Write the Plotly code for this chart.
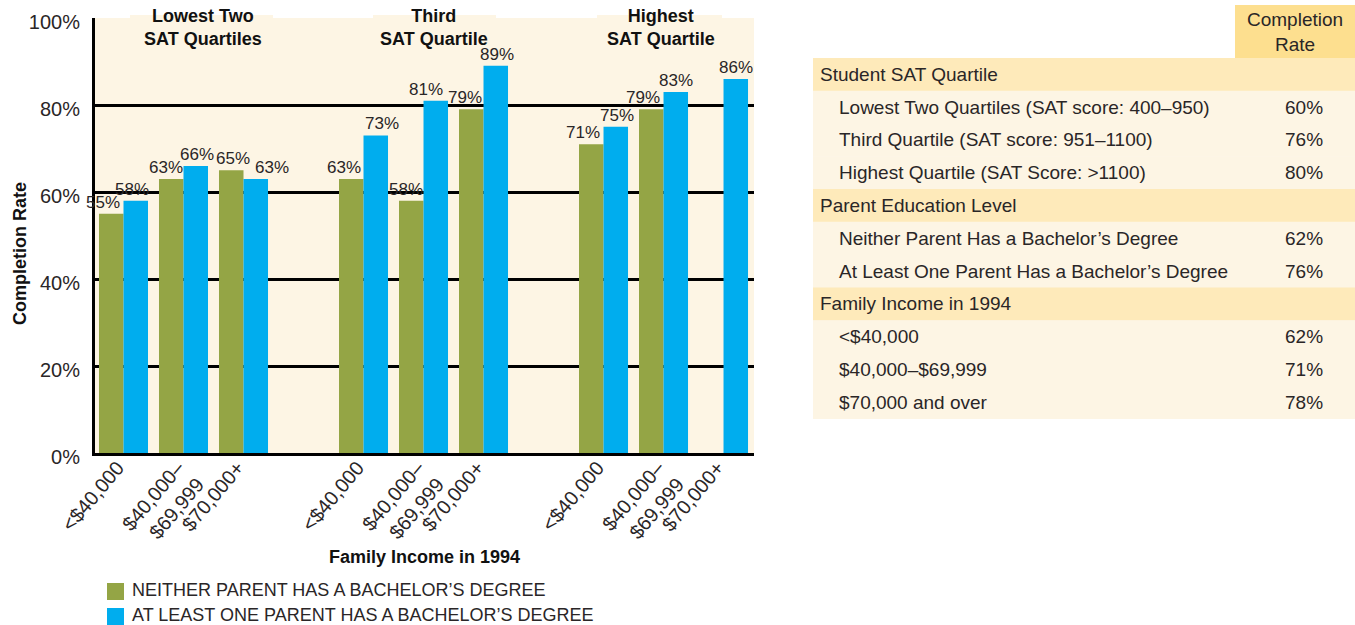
import plotly.graph_objects as go

# ---- data -----------------------------------------------------------------
groups = ["Lowest Two<br>SAT Quartiles", "Third<br>SAT Quartile", "Highest<br>SAT Quartile"]
income_bands = ["<$40,000", "$40,000–<br>$69,999", "$70,000+"]
y_ticks = [0, 20, 40, 60, 80, 100]

neither_parent = [55, 63, 65, 63, 58, 79, 71, 79, None]
one_parent = [58, 66, 63, 73, 81, 89, 75, 83, 86]

series_names = ["NEITHER PARENT HAS A BACHELOR’S DEGREE",
                "AT LEAST ONE PARENT HAS A BACHELOR’S DEGREE"]

table_title = "Completion<br>Rate"
table_labels = [
    "Student SAT Quartile",
    "Lowest Two Quartiles (SAT score: 400–950)",
    "Third Quartile (SAT score: 951–1100)",
    "Highest Quartile (SAT Score: >1100)",
    "Parent Education Level",
    "Neither Parent Has a Bachelor’s Degree",
    "At Least One Parent Has a Bachelor’s Degree",
    "Family Income in 1994",
    "<$40,000",
    "$40,000–$69,999",
    "$70,000 and over",
]
table_rates = [None, 60, 76, 80, None, 62, 76, None, 62, 71, 78]
table_is_section = [True, False, False, False, True, False, False, True, False, False, False]

# ---- styling --------------------------------------------------------------
GREEN = "#94A545"
BLUE = "#00ADEE"
CREAM = "#FDF5E4"
SECTION = "#FEEABA"
HEADER = "#FDDF8F"
TEXT = "#2A2627"
HEAD_TEXT = "#111111"
FONT = "Liberation Sans, Arial, sans-serif"
BARGAP = 0.183

# horizontal nudges (px) for the value labels so neighbours do not collide
nudge_neither = [-8, -5, 2, -7, -5, -6, -8, -8, 0]
nudge_one = [-4, 1, 16, 6, -10, 1, 1, 0, 0]

W, H = 1355, 625
PL, PR, PT, PB = 95, 754, 18, 453  # plot box in pixels

# table box (pixels)
TL, TR, T_HEAD_TOP, T_BODY_TOP, T_ROW_H = 813, 1355, 5, 58, 32.77
T_RATE_L = 1235


def fx(px):
    """pixel column -> paper x (margins are zero, so paper = whole figure)"""
    return px / W


def fy(py):
    """pixel row -> paper y"""
    return 1 - py / H


# bar slots: three per group, one empty slot between groups
x_pos = [g * 4 + j for g in range(len(groups)) for j in range(len(income_bands))]
x_labels = [income_bands[j] for g in range(len(groups)) for j in range(len(income_bands))]

fig = go.Figure()
for name, vals, color in [(series_names[0], neither_parent, GREEN),
                          (series_names[1], one_parent, BLUE)]:
    fig.add_trace(go.Bar(
        x=x_pos, y=vals, name=name, marker=dict(color=color, line=dict(width=0)),
        showlegend=False, hoverinfo="skip",
    ))

annotations = []
shapes = []

# value labels centred over each bar of the grouped pair
half = (1 - BARGAP) / 4
for vals, nudges, side in [(neither_parent, nudge_neither, -1), (one_parent, nudge_one, 1)]:
    for xp, v, dx in zip(x_pos, vals, nudges):
        if v is None:
            continue
        annotations.append(dict(
            x=xp + side * half, y=v, xref="x", yref="y", text=f"{v}%",
            showarrow=False, xanchor="center", yanchor="bottom", xshift=dx,
            font=dict(family=FONT, size=17, color=TEXT),
        ))

# ---- summary table (filled rows with text) ----------------------------------------
shapes.append(dict(type="rect", xref="paper", yref="paper", layer="below",
                   x0=fx(T_RATE_L), x1=fx(TR), y0=fy(T_BODY_TOP), y1=fy(T_HEAD_TOP),
                   fillcolor=HEADER, line=dict(width=0)))
annotations.append(dict(
    x=fx((T_RATE_L + TR) / 2), y=fy((T_HEAD_TOP + T_BODY_TOP) / 2), xref="paper", yref="paper",
    text=table_title, showarrow=False, xanchor="center", yanchor="middle", align="center",
    font=dict(family=FONT, size=19, color=TEXT),
))
for i, (label, rate, section) in enumerate(zip(table_labels, table_rates, table_is_section)):
    top = T_BODY_TOP + i * T_ROW_H
    mid = top + T_ROW_H / 2
    shapes.append(dict(type="rect", xref="paper", yref="paper", layer="below",
                       x0=fx(TL), x1=fx(TR), y0=fy(top + T_ROW_H + 0.5), y1=fy(top),
                       fillcolor=SECTION if section else CREAM, line=dict(width=0)))
    annotations.append(dict(
        x=fx(818 if section else 837), y=fy(mid), xref="paper", yref="paper",
        text=label, showarrow=False, xanchor="left", yanchor="middle",
        font=dict(family=FONT, size=19, color=TEXT),
    ))
    if rate is not None:
        annotations.append(dict(
            x=fx(1325), y=fy(mid), xref="paper", yref="paper",
            text=f"{rate}%", showarrow=False, xanchor="right", yanchor="middle",
            font=dict(family=FONT, size=19, color=TEXT),
        ))

# ---- headings and titles -------------------------------------------------------
header_x = [203, 434, 661]
for label, hx in zip(groups, header_x):
    annotations.append(dict(
        x=fx(hx), y=fy(28), xref="paper", yref="paper",
        text=f"<b>{label}</b>", showarrow=False, xanchor="center", yanchor="middle",
        font=dict(family=FONT, size=18, color=HEAD_TEXT),
    ))
annotations.append(dict(
    x=fx(20), y=fy(254), xref="paper", yref="paper",
    text="<b>Completion Rate</b>", textangle=-90, showarrow=False,
    xanchor="center", yanchor="middle",
    font=dict(family=FONT, size=18, color=HEAD_TEXT),
))
annotations.append(dict(
    x=fx((PL + PR) / 2), y=fy(557), xref="paper", yref="paper",
    text="<b>Family Income in 1994</b>", showarrow=False,
    xanchor="center", yanchor="middle",
    font=dict(family=FONT, size=18, color=HEAD_TEXT),
))

# legend rows
for i, (name, color) in enumerate(zip(series_names, [GREEN, BLUE])):
    top = 583 + 25 * i
    shapes.append(dict(type="rect", xref="paper", yref="paper",
                       x0=fx(107), x1=fx(124), y0=fy(top), y1=fy(top + 17),
                       fillcolor=color, line=dict(width=0)))
    annotations.append(dict(
        x=fx(130), y=fy(top + 6.5), xref="paper", yref="paper",
        text=name, showarrow=False, xanchor="left", yanchor="middle",
        font=dict(family=FONT, size=18, color=TEXT),
    ))

# gaps in the top rule behind the group headings
for g0, g1 in [(130, 273), (373, 496), (597, 722)]:
    shapes.append(dict(type="rect", xref="paper", yref="paper", layer="above",
                       x0=fx(g0), x1=fx(g1), y0=fy(21), y1=fy(15),
                       fillcolor=CREAM, line=dict(width=0)))

fig.update_layout(
    width=W, height=H,
    margin=dict(l=0, r=0, t=0, b=0, pad=0),
    paper_bgcolor="white", plot_bgcolor=CREAM,
    barmode="group", bargap=BARGAP, bargroupgap=0,
    font=dict(family=FONT, color=TEXT),
    annotations=annotations, shapes=shapes,
    showlegend=False,
)
fig.update_xaxes(
    domain=[fx(PL), fx(PR)], automargin=False,
    range=[-0.475, 10.508], tickvals=x_pos, ticktext=x_labels, tickangle=-50,
    ticks="", showgrid=False, zeroline=False,
    showline=True, linecolor="black", linewidth=3,
    tickfont=dict(family=FONT, size=20, color=TEXT),
    ticklabelstandoff=-8, ticklabelshift=-6,
)
fig.update_yaxes(
    domain=[fy(PB), fy(PT)], automargin=False,
    range=[0, 100], tickvals=y_ticks, ticktext=[f"{v}%" for v in y_ticks],
    ticks="", showgrid=True, gridcolor="black", gridwidth=3, zeroline=False,
    showline=True, linecolor="black", linewidth=3,
    tickfont=dict(family=FONT, size=20, color=TEXT),
    ticklabelstandoff=8, ticklabelshift=4,
)

fig.write_html("out.html")
